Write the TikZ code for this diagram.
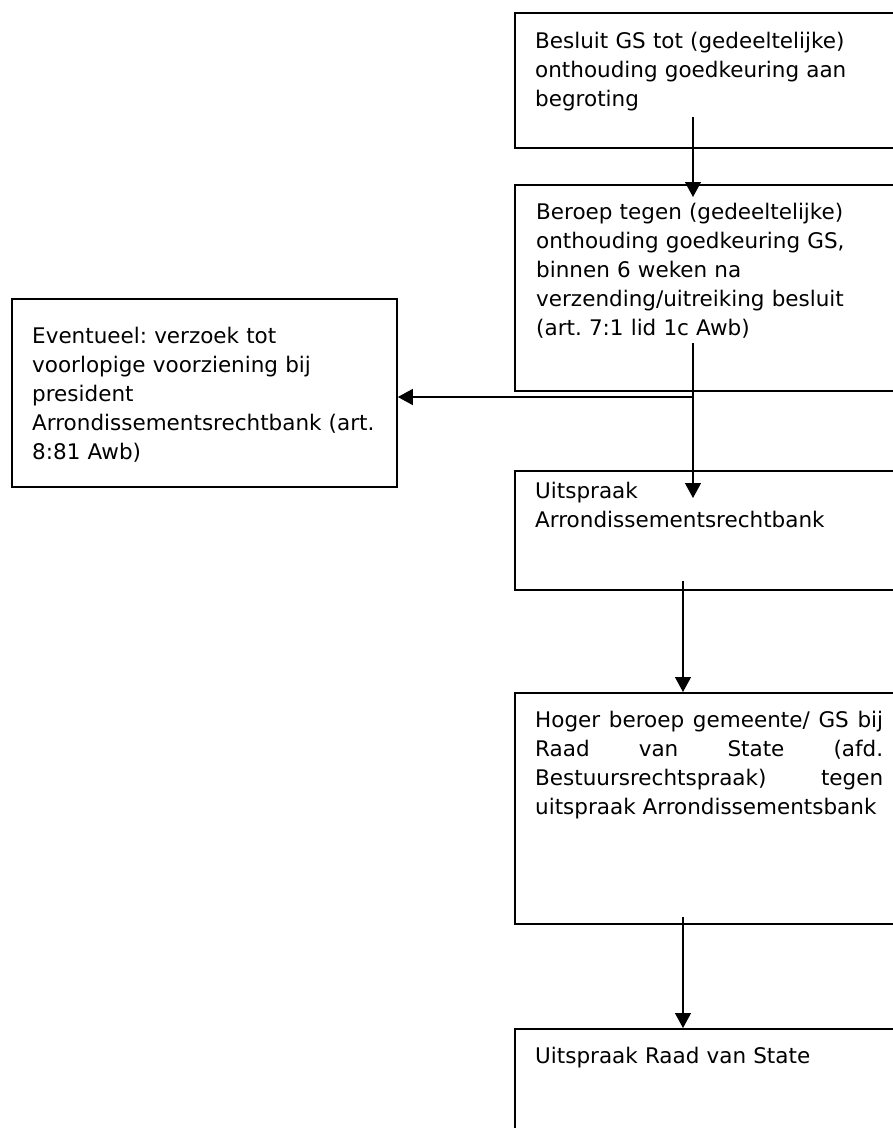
\documentclass[tikz,border=0pt]{standalone}
\usepackage{fontspec}
\setmainfont{DejaVu Sans}
\usetikzlibrary{arrows.meta}
\frenchspacing
\begin{document}
\begin{tikzpicture}[x=1pt,y=-1pt,
  frame/.style={draw, line width=1.8pt, anchor=north west, inner sep=0pt, minimum width=400pt},
  txt/.style={anchor=base west, inner sep=0pt, text width=350pt, align=left, font=\fontsize{21.5}{29}\selectfont},
  conn/.style={line width=1.3pt, -{Triangle[length=15pt,width=16pt]}}]
\useasboundingbox (0,0) rectangle (893,1128);
\fill[white] (0,0) rectangle (893,1128);
% boxes
\node[frame, minimum height=135pt] (b1) at (514,12) {};
\node[frame, minimum height=206pt] (b2) at (514,184) {};
\node[frame, minimum width=385pt, minimum height=188pt] (bl) at (11,298) {};
\node[frame, minimum height=119pt] (b3) at (514,470) {};
\node[frame, minimum height=231pt] (b4) at (514,692) {};
\node[frame, minimum height=140pt] (b5) at (514,1028) {};
% texts
\node[txt] (t1) at (535,48) {Besluit GS tot (gedeeltelijke)\\onthouding goedkeuring aan\\begroting};
\node[txt] (t2) at (536,219) {Beroep tegen (gedeeltelijke)\\onthouding goedkeuring GS,\\binnen 6 weken na\\verzending/uitreiking besluit\\(art. 7:1 lid 1c Awb)};
\node[txt] (tl) at (32,343) {Eventueel: verzoek tot\\voorlopige voorziening bij\\president\\Arrondissementsrechtbank (art.\\8:81 Awb)};
\node[txt] (t3) at (535,498) {Uitspraak\\Arrondissementsrechtbank};
\node[txt, text width=348pt, align=justify] (t4) at (535,727) {Hoger beroep gemeente/ GS bij\linebreak Raad van State (afd.\linebreak Bestuursrechtspraak) tegen\linebreak uitspraak Arrondissementsbank};
\node[txt] (t5) at (535,1063) {Uitspraak Raad van State};
% connectors
\coordinate (s1) at (693,117);
\coordinate (e1) at (693,197);
\draw[conn] (s1) -- (e1);
\coordinate (s2) at (693,343);
\coordinate (e2) at (693,498);
\draw[conn] (s2) -- (e2);
\coordinate (h1) at (693,397);
\draw[conn] (h1) -- (bl.east |- h1);
\coordinate (s3) at (683,581);
\draw[conn] (s3) -- (s3 |- b4.north);
\coordinate (s4) at (683,917);
\draw[conn] (s4) -- (s4 |- b5.north);
\end{tikzpicture}
\end{document}
